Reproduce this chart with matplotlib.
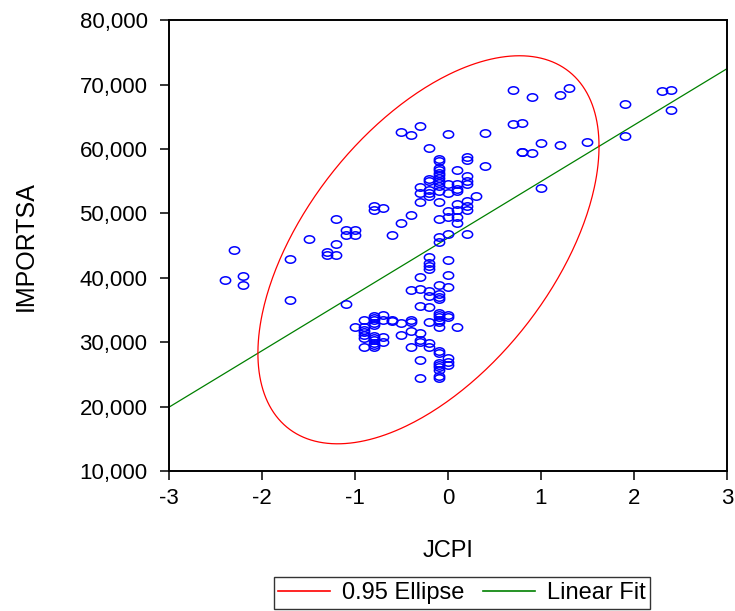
import numpy as np
import matplotlib
matplotlib.use("Agg")
import matplotlib.pyplot as plt
from matplotlib.path import Path
from matplotlib.transforms import Affine2D
from matplotlib.ticker import FuncFormatter
from matplotlib.lines import Line2D

plt.rcParams['font.family'] = ['Liberation Sans', 'DejaVu Sans']

# JCPI (x) and IMPORTSA (y) observations
jcpi = [
    -2.4, -2.3, -2.2, -2.2, -1.7, -1.7, -1.5, -1.3, -1.3, -1.2, -1.2, -1.2,
    -1.1, -1.1, -1.0, -1.0, -1.1, -0.8, -0.8, -0.7, -0.6, -0.5, -0.4,
    -0.5, -0.4, -0.3, -0.2, 0.0,
    -0.1, -0.1, -0.1, -0.1, -0.1, -0.1, -0.1, -0.1, -0.1, -0.1, -0.1, -0.1, -0.1, -0.1, -0.1,
    -0.2, -0.2, -0.2, -0.2, -0.2,
    -0.3, -0.3, -0.3,
    0.0, 0.0, 0.0, 0.0, 0.0,
    0.1, 0.1, 0.1, 0.1, 0.1, 0.1, 0.1, 0.1,
    0.2, 0.2, 0.2, 0.2, 0.2, 0.2, 0.2, 0.2, 0.2,
    0.3, 0.4, 0.4,
    0.7, 0.9, 1.2, 1.3, 1.9, 2.3, 2.4, 2.4, 0.7, 0.8, 1.0, 1.2, 1.5, 1.9,
    0.8, 0.8, 0.9, 1.0,
    -0.2, -0.2, -0.2, -0.2, -0.2, -0.2, -0.2, -0.2, -0.2, -0.2,
    0.0, 0.0, 0.0, 0.0, 0.0, 0.0, 0.0, 0.0,
    -0.3, -0.3, -0.3, -0.3, -0.3, -0.3, -0.3, -0.3,
    -0.4, -0.4, -0.4, -0.4, -0.4,
    -0.1, -0.1, -0.1, -0.1, -0.1, -0.1, -0.1, -0.1, -0.1, -0.1, -0.1, -0.1,
    -0.1, -0.1, -0.1, -0.1, -0.1, -0.1,
    0.1, -0.5, -0.5, -0.6, -0.6,
    -0.7, -0.7, -0.7, -0.7,
    -0.8, -0.8, -0.8, -0.8, -0.8, -0.8, -0.8, -0.8, -0.8, -0.8, -0.8,
    -0.9, -0.9, -0.9, -0.9, -0.9, -0.9, -0.9,
    -1.0,
]
importsa = [
    39700, 44300, 40300, 38900, 43000, 36500, 46100, 44000, 43600, 49100, 45200, 43500,
    47500, 46600, 47500, 46600, 36000, 51100, 50600, 50900, 46700, 48500, 49700,
    62700, 62200, 63500, 60100, 62300,
    58400, 58100, 57100, 56700, 56300, 55900, 55500, 55100, 54700, 54300, 53500, 51700, 49100, 46300, 45600,
    55400, 55000, 53600, 53100, 52700,
    54100, 53100, 51800,
    54500, 53100, 50300, 49400, 46800,
    56800, 54600, 53800, 53500, 51400, 50500, 49400, 48500,
    58700, 58300, 55800, 55000, 54600, 51900, 51200, 50600, 46800,
    52700, 62500, 57400,
    69100, 68000, 68400, 69500, 67000, 69000, 69100, 66100, 63900, 64000, 61000, 60600, 61100, 62000,
    59600, 59500, 59400, 54000,
    43300, 42300, 41900, 41400, 37900, 37200, 35400, 33200, 29900, 29300,
    42800, 40400, 38500, 34300, 33900, 27600, 26900, 26500,
    40100, 38200, 35700, 31500, 30400, 30000, 27300, 24400,
    38100, 33500, 33100, 31800, 29200,
    38900, 37500, 37100, 36700, 34600, 34300, 33900, 33500, 33200, 32400, 28700, 28300,
    26800, 26400, 26100, 25700, 24800, 24500,
    32300, 33000, 31100, 33500, 33300,
    34200, 33400, 30800, 30100,
    34100, 33700, 33400, 33000, 32700, 31000, 30600, 30300, 29900, 29500, 29200,
    33500, 32300, 31900, 31600, 31200, 30700, 29300,
    32400,
]

x_ticks = [-3, -2, -1, 0, 1, 2, 3]
y_ticks = [10000, 20000, 30000, 40000, 50000, 60000, 70000, 80000]
ellipse_level = 0.95

x = np.asarray(jcpi, dtype=float)
y = np.asarray(importsa, dtype=float)

fig = plt.figure(figsize=(7.35, 6.11), dpi=100)
ax = fig.add_axes([0.230, 0.229, 0.759, 0.738])

# open, slightly flattened circle markers
ring = Path.unit_circle().transformed(Affine2D().scale(1.0, 0.72))
ax.plot(x, y, linestyle='none', marker=ring, markersize=7.4,
        markerfacecolor='none', markeredgecolor='#0000FF', markeredgewidth=1.1,
        zorder=3)

# least-squares line across the full x range
slope, intercept = np.polyfit(x, y, 1)
xf = np.array([x_ticks[0], x_ticks[-1]], dtype=float)
ax.plot(xf, intercept + slope * xf, color='#008000', linewidth=0.9, zorder=2)

# 0.95 confidence ellipse from the sample mean and covariance
mu = np.array([x.mean(), y.mean()])
cov = np.cov(np.vstack([x, y]))
chol = np.linalg.cholesky(cov)
c = -2.0 * np.log(1.0 - ellipse_level)
t = np.linspace(0, 2 * np.pi, 400)
circ = np.vstack([np.cos(t), np.sin(t)]) * np.sqrt(c)
ell = mu[:, None] + chol @ circ
ax.plot(ell[0], ell[1], color='#FF0000', linewidth=0.9, zorder=2)

ax.set_xlim(x_ticks[0], x_ticks[-1])
ax.set_ylim(y_ticks[0], y_ticks[-1])
ax.set_xticks(x_ticks)
ax.set_yticks(y_ticks)
ax.yaxis.set_major_formatter(FuncFormatter(lambda v, p: f"{int(v):,}"))
ax.xaxis.set_major_formatter(FuncFormatter(lambda v, p: f"{int(v)}"))

for s in ax.spines.values():
    s.set_linewidth(1.4)
    s.set_color('black')
ax.tick_params(axis='both', direction='out', length=6.5, width=1.1,
               labelsize=16, colors='black')
ax.tick_params(axis='y', pad=9)
ax.tick_params(axis='x', pad=6)

ax.set_ylabel('IMPORTSA', fontsize=18)
ax.yaxis.set_label_coords(-0.235, 0.5)
ax.set_xlabel('JCPI', fontsize=17)
ax.xaxis.set_label_coords(0.5, -0.152)

handles = [Line2D([], [], color='#FF0000', linewidth=1.2),
           Line2D([], [], color='#008000', linewidth=1.2)]
leg = fig.legend(handles, [f'{ellipse_level:.2f} Ellipse', 'Linear Fit'],
                 loc='center', bbox_to_anchor=(462 / 735, 1 - 593 / 611),
                 ncol=2, fontsize=17, frameon=True, fancybox=False,
                 edgecolor='black', handlelength=2.2, handletextpad=0.5,
                 columnspacing=0.8, borderpad=0.2, borderaxespad=0)
leg.get_frame().set_linewidth(1.0)

fig.savefig('out.png', dpi=100)
